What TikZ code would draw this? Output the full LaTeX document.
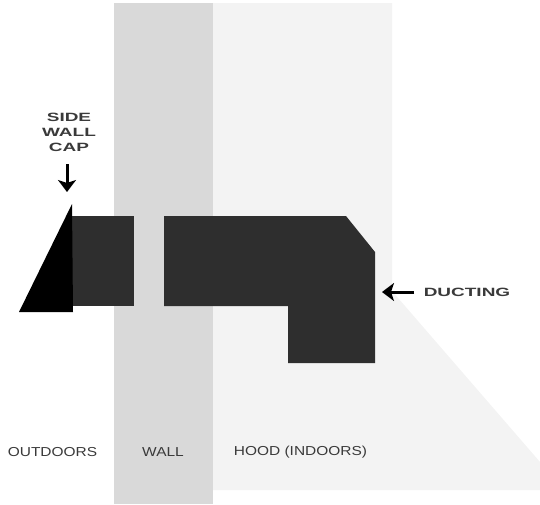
\documentclass[tikz,border=0pt]{standalone}
\usepackage{fontspec}
\setmainfont{Liberation Sans}
\usetikzlibrary{arrows.meta,positioning}
\definecolor{wallgray}{HTML}{D9D9D9}
\definecolor{hoodgray}{HTML}{F3F3F3}
\definecolor{ductgray}{HTML}{2E2E2E}
\definecolor{labelgray}{HTML}{3A3A3A}
\tikzset{
  lab/.style={font=\fontsize{13}{15}\selectfont,text=labelgray,inner sep=0pt,xscale=1.19},
  widelab/.style={lab,font=\fontsize{12}{15}\selectfont\bfseries,xscale=1.33,align=center},
  callout/.style={-{Stealth[length=12pt,width=18pt,inset=3pt]},line width=3pt,black}
}

\begin{document}
\begin{tikzpicture}[x=1pt,y=-1pt]
\useasboundingbox (0,0) rectangle (540,504);
\fill[wallgray] (114,3) rectangle (213,504);
\fill[hoodgray] (213,3) -- (392,3) -- (392,291) -- (540,462) -- (540,490) -- (213,490) -- cycle;
\fill[ductgray] (72,216) rectangle (134,306);
\fill[ductgray] (164,216) -- (346,216) -- (375,252) -- (375,363) -- (288,363) -- (288,306) -- (164,306) -- cycle;
\fill[black] (72,204) -- (73,312) -- (19,312) -- cycle;
% labels
\node[widelab] (caplabel) at (69,132) {SIDE\\WALL\\CAP};
\node[widelab] (ductlabel) at (467,292) {DUCTING};
\node[lab] (outdoors) at (52.5,452) {OUTDOORS};
\node[lab] (wall) at (163,452) {WALL};
\node[lab] (hood) at (300.5,452) {HOOD (INDOORS)};
% arrows
\coordinate (captip) at (67,192);
\coordinate (capstart) at (67,164);
\coordinate (ducttip) at (382,292);
\coordinate (ductstart) at (414,292);
\draw[callout] (capstart) -- (captip);
\draw[callout] (ductstart) -- (ducttip);
\end{tikzpicture}
\end{document}
